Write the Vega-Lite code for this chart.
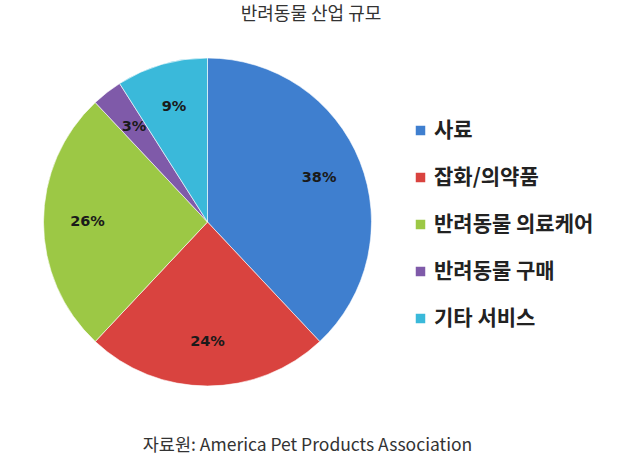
{
  "$schema": "https://vega.github.io/schema/vega-lite/v6.json",
  "padding": {"top": 6, "left": 0, "right": 0, "bottom": 0},
  "background": "white",
  "config": {"view": {"stroke": null}},
  "title": {"text": "반려동물 산업 규모", "font": "Noto Sans CJK KR", "fontSize": 18, "fontWeight": "normal", "color": "#333333", "anchor": "middle", "offset": 4, "dx": 14},
  "vconcat": [
    {
      "width": 415,
      "height": 388,
      "title": {"text": "자료원: America Pet Products Association", "orient": "bottom", "font": "Noto Sans CJK KR", "fontSize": 17.5, "fontWeight": "normal", "color": "#333333", "anchor": "middle", "offset": 21, "dx": 100},
      "data": {"values": [
        {"category": "사료", "share": 38, "label": "38%", "ord": 1},
        {"category": "잡화/의약품", "share": 24, "label": "24%", "ord": 2},
        {"category": "반려동물 의료케어", "share": 26, "label": "26%", "ord": 3},
        {"category": "반려동물 구매", "share": 3, "label": "3%", "ord": 4},
        {"category": "기타 서비스", "share": 9, "label": "9%", "ord": 5}
      ]},
      "encoding": {
        "theta": {"field": "share", "type": "quantitative", "stack": true},
        "order": {"field": "ord", "type": "quantitative"}
      },
      "layer": [
        {
          "mark": {"type": "arc", "radius": 164, "stroke": "#ffffff", "strokeWidth": 0.6},
          "encoding": {
            "color": {
              "field": "category", "type": "nominal",
              "scale": {"domain": ["사료", "잡화/의약품", "반려동물 의료케어", "반려동물 구매", "기타 서비스"],
                        "range": ["#3f7fcf", "#d9433f", "#9cc845", "#7f5aa9", "#3ab9da"]},
              "legend": {
                "title": null, "orient": "none", "legendX": 410, "legendY": 92,
                "symbolType": "square", "symbolSize": 90, "symbolStrokeWidth": 0,
                "labelFont": "Noto Sans CJK KR", "labelFontSize": 21, "labelFontWeight": "bold",
                "labelColor": "#222222", "labelOffset": 3, "rowPadding": 25, "labelLimit": 300
              }
            }
          }
        },
        {
          "mark": {"type": "text", "radius": 120, "font": "DejaVu Sans", "fontSize": 14.5, "fontWeight": "bold", "color": "#1a1a1a"},
          "encoding": {"text": {"field": "label"}}
        }
      ]
    }
  ]
}
